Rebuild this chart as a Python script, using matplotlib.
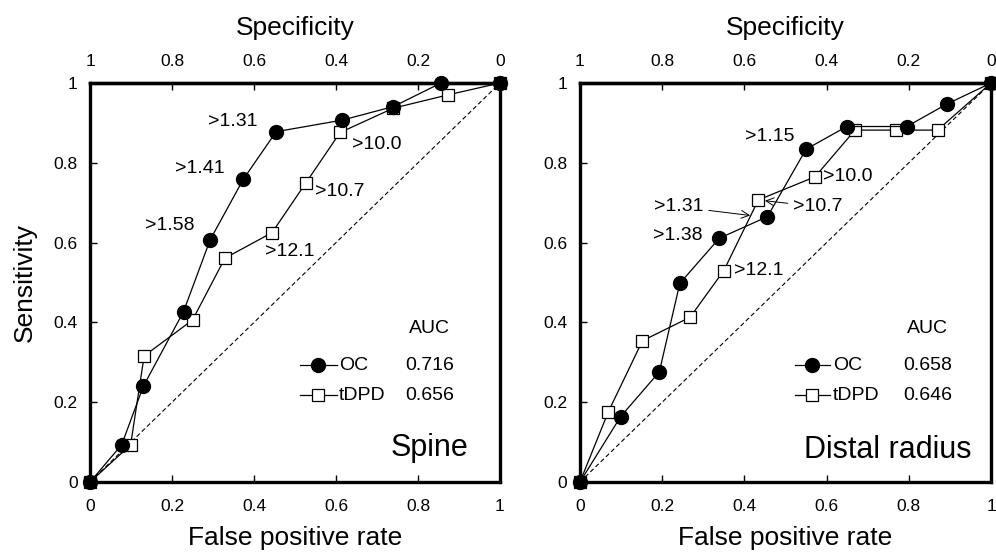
import matplotlib
matplotlib.use("Agg")
import matplotlib.pyplot as plt
import matplotlib.ticker as mticker

plt.rcParams["font.family"] = ["Liberation Sans", "DejaVu Sans"]

# ROC points (false positive rate, sensitivity)
spine_oc_fpr = [0, 0.077, 0.13, 0.228, 0.293, 0.374, 0.454, 0.615, 0.740, 0.856, 1]
spine_oc_sens = [0, 0.093, 0.24, 0.427, 0.607, 0.759, 0.878, 0.907, 0.941, 1.0, 1]
spine_dpd_fpr = [0, 0.099, 0.132, 0.250, 0.329, 0.444, 0.526, 0.610, 0.740, 0.872, 1]
spine_dpd_sens = [0, 0.093, 0.316, 0.406, 0.561, 0.625, 0.749, 0.876, 0.937, 0.970, 1]

radius_oc_fpr = [0, 0.099, 0.193, 0.243, 0.339, 0.456, 0.550, 0.649, 0.795, 0.892, 1]
radius_oc_sens = [0, 0.164, 0.276, 0.498, 0.611, 0.665, 0.834, 0.891, 0.891, 0.947, 1]
radius_dpd_fpr = [0, 0.069, 0.152, 0.268, 0.350, 0.434, 0.572, 0.669, 0.769, 0.870, 1]
radius_dpd_sens = [0, 0.176, 0.354, 0.413, 0.530, 0.707, 0.765, 0.882, 0.882, 0.882, 1]

spine_auc = {"OC": "0.716", "tDPD": "0.656"}
radius_auc = {"OC": "0.658", "tDPD": "0.646"}

ticks = [0, 0.2, 0.4, 0.6, 0.8, 1]


def fmt(v, pos=None):
    return "%g" % round(v, 2)


def setup_axes(ax, ylabel=True):
    ax.set_xlim(0, 1)
    ax.set_ylim(0, 1)
    for s in ax.spines.values():
        s.set_linewidth(2.4)
    ax.set_xticks(ticks)
    ax.set_yticks(ticks)
    ax.xaxis.set_major_formatter(mticker.FuncFormatter(fmt))
    ax.yaxis.set_major_formatter(mticker.FuncFormatter(fmt))
    ax.tick_params(direction="in", length=5, width=1, labelsize=12.5)
    ax.tick_params(axis="x", pad=12)
    ax.tick_params(axis="y", pad=9)
    ax.set_xlabel("False positive rate", fontsize=19, labelpad=9)
    if ylabel:
        ax.set_ylabel("Sensitivity", fontsize=19, labelpad=12)

    top = ax.secondary_xaxis("top", functions=(lambda x: 1 - x, lambda x: 1 - x))
    top.set_xticks(ticks)
    top.xaxis.set_major_formatter(mticker.FuncFormatter(fmt))
    top.tick_params(direction="in", length=5, width=1, labelsize=12.5, pad=10)
    top.spines["top"].set_linewidth(2.4)
    top.set_xlabel("Specificity", fontsize=19, labelpad=14)

    # chance line
    ax.plot([0, 1], [0, 1], ls=(0, (4, 2.5)), lw=0.8, color="black")


def draw_curves(ax, oc_x, oc_y, dpd_x, dpd_y):
    ax.plot(dpd_x, dpd_y, color="black", lw=0.9, marker="s", ms=8.5,
            mfc="white", mec="black", mew=0.9, clip_on=False, zorder=3)
    ax.plot(oc_x, oc_y, color="black", lw=0.9, marker="o", ms=10,
            mfc="black", mec="black", clip_on=False, zorder=4)


def draw_legend(ax, x0, x1, xtext, xval, auc):
    t = ax.transAxes
    xm = (x0 + x1) / 2
    ax.text(xval, 0.385, "AUC", transform=t, fontsize=14, ha="center", va="center")
    ax.plot([x0, x1], [0.293, 0.293], transform=t, color="black", lw=0.9)
    ax.plot([xm], [0.293], transform=t, marker="o", ms=10, color="black")
    ax.text(xtext, 0.293, "OC", transform=t, fontsize=14, va="center")
    ax.text(xval, 0.293, auc["OC"], transform=t, fontsize=14, ha="center", va="center")
    ax.plot([x0, x1], [0.218, 0.218], transform=t, color="black", lw=0.9)
    ax.plot([xm], [0.218], transform=t, marker="s", ms=8.5, mfc="white",
            mec="black", mew=0.9)
    ax.text(xtext, 0.218, "tDPD", transform=t, fontsize=14, va="center")
    ax.text(xval, 0.218, auc["tDPD"], transform=t, fontsize=14, ha="center", va="center")


fig = plt.figure(figsize=(9.96, 5.52), dpi=100)
ax1 = fig.add_axes([0.0904, 0.1268, 0.4116, 0.7228])
ax2 = fig.add_axes([0.5823, 0.1268, 0.4127, 0.7228])

# Spine
setup_axes(ax1)
draw_curves(ax1, spine_oc_fpr, spine_oc_sens, spine_dpd_fpr, spine_dpd_sens)
for txt, x, y in [(">1.31", 0.349, 0.903), (">1.41", 0.268, 0.786),
                  (">1.58", 0.195, 0.644), (">10.0", 0.699, 0.845),
                  (">10.7", 0.610, 0.728), (">12.1", 0.488, 0.577)]:
    ax1.text(x, y, txt, fontsize=14, ha="center", va="center")
draw_legend(ax1, 0.512, 0.602, 0.607, 0.829, spine_auc)
ax1.text(0.829, 0.084, "Spine", fontsize=22, ha="center", va="center",
         transform=ax1.transAxes)

# Distal radius
setup_axes(ax2, ylabel=False)
draw_curves(ax2, radius_oc_fpr, radius_oc_sens, radius_dpd_fpr, radius_dpd_sens)
ax2.text(0.461, 0.865, ">1.15", fontsize=14, ha="center", va="center")
ax2.text(0.237, 0.619, ">1.38", fontsize=14, ha="center", va="center")
ax2.text(0.592, 0.765, ">10.0", fontsize=14, ha="left", va="center")
ax2.text(0.374, 0.531, ">12.1", fontsize=14, ha="left", va="center")
ax2.annotate(">1.31", xy=(0.414, 0.668), xytext=(0.300, 0.690), fontsize=14,
             ha="right", va="center",
             arrowprops=dict(arrowstyle="->", lw=0.7, color="black",
                             shrinkA=2, shrinkB=0, mutation_scale=14))
ax2.annotate(">10.7", xy=(0.450, 0.705), xytext=(0.519, 0.690), fontsize=14,
             ha="left", va="center",
             arrowprops=dict(arrowstyle="->", lw=0.7, color="black",
                             shrinkA=2, shrinkB=0, mutation_scale=14))
draw_legend(ax2, 0.523, 0.608, 0.616, 0.846, radius_auc)
ax2.text(0.748, 0.08, "Distal radius", fontsize=22, ha="center", va="center",
         transform=ax2.transAxes)

fig.savefig("out.png", dpi=100)
